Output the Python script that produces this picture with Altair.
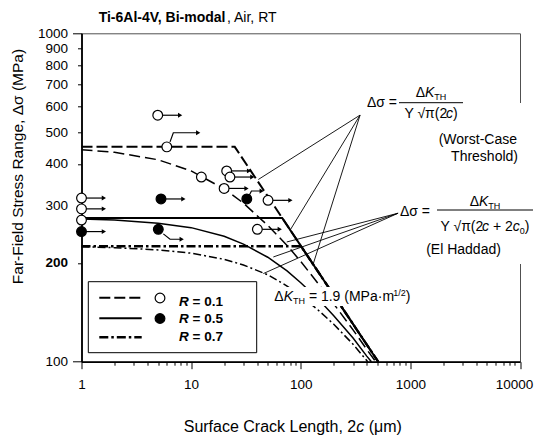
import altair as alt
import pandas as pd

FONT = "Liberation Sans"
OX, OY = 81.5, 33.3          # page position of the plot-area origin
W, H = 438.5, 328.4          # plot-area size

# ---------------- data ----------------
open_x = [1, 1, 1, 4.96, 6.0, 12.4, 21.1, 22.6, 20.0, 50.3, 40.2]
open_y = [315, 292, 270, 563, 451, 365, 381, 365, 337, 310, 253]
open_arrow = [1, 1, 0, 1, 0, 0, 1, 1, 1, 1, 1]

filled_x = [1, 5.31, 5.02, 32.2]
filled_y = [249, 313, 253, 313]
filled_arrow = [1, 1, 0, 0]

# bent run-out arrows
bent_id = ["a", "a", "a", "b", "b", "b", "c", "c", "c"]
bent_x = [6.42, 6.88, 11.6, 5.58, 6.42, 8.2, 34.0, 35.5, 44.0]
bent_y = [467, 498, 498, 245, 236, 236, 322, 331, 331]

# worst-case threshold lines
wc01_x = [1, 25, 508.5]
wc01_y = [451, 451, 100]
wc05_x = [1, 67.7, 508.5]
wc05_y = [274, 274, 100]
wc07_x = [1, 100.7, 508.5]
wc07_y = [224.7, 224.7, 100]

# El Haddad curves
eh01_x = [1, 2, 5, 10, 20, 30, 50, 75, 100, 150, 200, 300, 400, 483.5]
eh01_y = [442, 434, 412, 381, 336, 304, 260, 226, 202, 170, 150, 125, 109, 100]
eh05_x = [1, 2, 5, 10, 20, 30, 50, 75, 100, 150, 200, 300, 400, 441]
eh05_y = [272, 270, 264, 256, 241, 228, 208, 189, 174, 153, 138, 118, 104, 100]
eh07_x = [1, 2, 5, 10, 20, 30, 50, 75, 100, 150, 200, 300, 408]
eh07_y = [224, 222.5, 219, 214, 205, 197, 184, 170, 159, 142, 130, 113, 100]

# leader lines of the formula call-outs
lead_id = ["w1", "w1", "w2", "w2", "w3", "w3", "e1", "e1", "e2", "e2", "e3", "e3"]
lead_x = [347.6, 41.0, 347.6, 79.9, 347.6, 130.3, 772.3, 74.5, 772.3, 56.2, 772.3, 45.6]
lead_y = [563.5, 358.8, 563.5, 251.4, 563.5, 199.0, 283.2, 231.5, 283.2, 208.4, 283.2, 185.5]

x_label_values = [1, 10, 100, 1000, 10000]
x_tick_values = [m * d for d in [1, 10, 100, 1000] for m in range(1, 10)] + [10000]
y_tick_values = [100, 200, 300, 400, 500, 600, 700, 800, 900, 1000]

# ---------------- helpers ----------------
REG = {' ': 278, '(': 333, ')': 333, ',': 278, '-': 333, '.': 278, '/': 278, '=': 584, '+': 584,
       '·': 278, 'A': 667, 'B': 667, 'C': 722, 'H': 722, 'K': 667, 'L': 556, 'M': 833, 'P': 667,
       'R': 722, 'S': 667, 'T': 611, 'V': 667, 'Y': 667, 'W': 944, 'a': 556, 'c': 500, 'd': 556,
       'e': 556, 'f': 278, 'g': 556, 'h': 556, 'i': 222, 'k': 500, 'l': 222, 'm': 833, 'n': 556,
       'o': 556, 'r': 333, 's': 500, 't': 278, 'u': 556, 'Δ': 668, 'σ': 600, 'π': 580, 'μ': 576,
       '√': 549}
BOLD = dict(REG, **{'i': 278, 'l': 278, 'm': 889, 'o': 611, 'd': 611, 'A': 722, 'B': 722})
for dch in "0123456789":
    REG[dch] = 556
    BOLD[dch] = 556


def tw(s, size, bold=False):
    tab = BOLD if bold else REG
    return sum(tab.get(ch, 556) for ch in s) * size / 1000.0


def px(x):
    return x - OX


def py(y):
    return y - OY


def one():
    return pd.DataFrame({"a": [0]})


def txt(s, x, y, size=14, weight="normal", style="normal", align="left", baseline="middle", angle=0):
    return alt.Chart(pd.DataFrame({"t": [s]})).mark_text(
        font=FONT, fontSize=size, fontWeight=weight, fontStyle=style, align=align,
        baseline=baseline, angle=angle, color="black"
    ).encode(x=alt.value(px(x)), y=alt.value(py(y)), text="t:N")


def run(parts, x, y, anchor="left", base="middle"):
    total = sum(tw(p[0], p[1], p[2] == "bold") for p in parts)
    if anchor == "center":
        x -= total / 2
    elif anchor == "right":
        x -= total
    out = []
    for (s, size, weight, style, dy) in parts:
        lead = len(s) - len(s.lstrip(' '))
        out.append(txt(s.strip(' '), x + tw(' ' * lead, size, weight == "bold"), y + dy,
                       size, weight, style, "left", base))
        x += tw(s, size, weight == "bold")
    return out


def prule(x1, y1, x2, y2, dash=None, sw=1.0, color="black"):
    kw = dict(color=color, strokeWidth=sw)
    if dash:
        kw["strokeDash"] = dash
    return alt.Chart(one()).mark_rule(**kw).encode(
        x=alt.value(px(x1)), x2=alt.value(px(x2)), y=alt.value(py(y1)), y2=alt.value(py(y2)))


def prect(x1, y1, x2, y2, fill="white", stroke=None, sw=1.0):
    kw = dict(fill=fill)
    if stroke:
        kw.update(stroke=stroke, strokeWidth=sw)
    return alt.Chart(one()).mark_rect(**kw).encode(
        x=alt.value(px(x1)), x2=alt.value(px(x2)), y=alt.value(py(y1)), y2=alt.value(py(y2)))


def psym(x, y, filled):
    return alt.Chart(one()).mark_point(
        shape="circle", size=95, filled=True, fill="black" if filled else "white",
        stroke="black", strokeWidth=1.2, opacity=1
    ).encode(x=alt.value(px(x)), y=alt.value(py(y)))


# ---------------- scales / axes ----------------
xs = alt.Scale(type="log", domain=[1, 10000], nice=False)
ys = alt.Scale(type="log", domain=[100, 1000], nice=False)

xaxis = alt.Axis(
    values=x_tick_values, title=None, grid=False, format="d",
    labelExpr="indexof([1,10,100,1000,10000], datum.value) >= 0 ? datum.label : ''",
    labelFlush=False, labelOverlap=False, labelFont=FONT, labelFontSize=13.5, labelColor="black",
    labelPadding=9, domainColor="black", domainWidth=1.8, tickColor="black", tickWidth=1,
    labelOffset={"condition": {"test": "datum.value == 10000", "value": -6}, "value": 0},
    tickSize={"condition": {"test": "indexof([1,10,100,1000,10000], datum.value) >= 0", "value": 7},
              "value": 3.5},
)
yaxis = alt.Axis(
    values=y_tick_values, title=None, grid=False, format="d",
    labelFlush=False, labelOverlap=False, labelFont=FONT, labelFontSize=13.5, labelColor="black",
    labelFontWeight={"condition": {"test": "datum.value == 200", "value": "bold"}, "value": "normal"},
    labelPadding={"condition": {"test": "datum.value == 100 || datum.value == 1000", "value": 5},
                  "value": 10},
    domainColor="black", domainWidth=1.8, tickColor="black", tickWidth=1,
    tickSize={"condition": {"test": "datum.value == 100 || datum.value == 1000", "value": 9},
              "value": 4},
)
X = alt.X("x:Q", scale=xs, axis=xaxis)
Y = alt.Y("y:Q", scale=ys, axis=yaxis)


def curve(cx, cy, dash, sw):
    df = pd.DataFrame({"x": cx, "y": cy, "o": list(range(len(cx)))})
    kw = dict(color="black", strokeWidth=sw)
    if dash:
        kw["strokeDash"] = dash
    return alt.Chart(df).mark_line(**kw).encode(x=X, y=Y, order="o:Q")


layers = []

# white text-box background that hides the right frame line
layers.append(prect(452, 103, 530, 264))

# curves
DASH = [11, 4]
DASHDOT = [9, 3, 2.5, 3]
layers += [
    curve(eh01_x, eh01_y, [11, 5], 1.5),
    curve(eh05_x, eh05_y, None, 1.5),
    curve(eh07_x, eh07_y, [8, 3, 2, 3], 1.5),
    curve(wc01_x, wc01_y, DASH, 2),
    curve(wc05_x, wc05_y, None, 2),
    curve(wc07_x, wc07_y, DASHDOT, 2.4),
]

# leader lines
lead_df = pd.DataFrame({"id": lead_id, "x": lead_x, "y": lead_y,
                        "o": [i % 2 for i in range(len(lead_id))]})
layers.append(alt.Chart(lead_df).mark_line(color="black", strokeWidth=0.9).encode(
    x=X, y=Y, detail="id:N", order="o:Q"))

# run-out arrows
arr_df = pd.DataFrame({
    "x": [v for v, a in zip(open_x, open_arrow) if a] + [v for v, a in zip(filled_x, filled_arrow) if a],
    "y": [v for v, a in zip(open_y, open_arrow) if a] + [v for v, a in zip(filled_y, filled_arrow) if a],
})
arr = alt.Chart(arr_df).transform_calculate(xe="datum.x * 1.6")
layers.append(arr.mark_rule(color="black", strokeWidth=1.2).encode(x=X, x2="xe:Q", y=Y))
layers.append(arr.mark_point(shape="triangle-right", filled=True, color="black", size=24, opacity=1)
              .encode(x=alt.X("xe:Q", scale=xs, axis=xaxis), y=Y))

bent_df = pd.DataFrame({"id": bent_id, "x": bent_x, "y": bent_y, "o": [0, 1, 2] * 3})
layers.append(alt.Chart(bent_df).mark_line(color="black", strokeWidth=1.2).encode(
    x=X, y=Y, detail="id:N", order="o:Q"))
layers.append(alt.Chart(bent_df).transform_filter("datum.o == 2").mark_point(
    shape="triangle-right", filled=True, color="black", size=24, opacity=1).encode(x=X, y=Y))

# data points
layers.append(alt.Chart(pd.DataFrame({"x": open_x, "y": open_y})).mark_point(
    shape="circle", size=95, filled=True, fill="white", stroke="black", strokeWidth=1.2, opacity=1
).encode(x=X, y=Y))
layers.append(alt.Chart(pd.DataFrame({"x": filled_x, "y": filled_y})).mark_point(
    shape="circle", size=95, filled=True, fill="black", stroke="black", strokeWidth=1.2, opacity=1
).encode(x=X, y=Y))

# legend box
layers.append(prect(88.3, 281.7, 256.7, 352.7, fill="white", stroke="black", sw=1))
layers.append(prule(99.3, 297.7, 141.7, 297.7, dash=DASH, sw=2))
layers.append(prule(99.3, 318.3, 141.7, 318.3, sw=2))
layers.append(prule(99.3, 337.3, 141.7, 337.3, dash=DASHDOT, sw=2.4))
layers.append(psym(160, 298, False))
layers.append(psym(160, 318.5, True))
for val, yb in [("0.1", 306), ("0.5", 322.7), ("0.7", 341)]:
    layers += run([("R", 13.5, "bold", "italic", 0), (" = " + val, 13.5, "bold", "normal", 0)],
                  179, yb, base="alphabetic")

# title
layers += run([("Ti-6Al-4V, Bi-modal", 14, "bold", "normal", 0),
               (", Air, RT", 14, "normal", "normal", 0)], 188.5, 22, anchor="center", base="alphabetic")

# axis titles
layers.append(txt("Far-Field Stress Range, Δσ (MPa)", 18, 166.5, size=15.5, align="center", angle=270))
layers += run([("Surface Crack Length, 2", 16, "normal", "normal", 0),
               ("c", 16, "normal", "italic", 0),
               (" (μm)", 16, "normal", "normal", 0)], 292.8, 427, anchor="center")

# formula 1 (worst case)
FS = 14
layers.append(txt("Δσ =", 397, 103, FS, align="right"))
layers.append(prule(399, 102.7, 463, 102.7, sw=1))
layers += run([("Δ", FS, "normal", "normal", 0), ("K", FS, "normal", "italic", 0),
               ("TH", 9, "normal", "normal", 4)], 431, 93, anchor="center")
layers += run([("Y √π(2", FS, "normal", "normal", 0), ("c", FS, "normal", "italic", 0),
               (")", FS, "normal", "normal", 0)], 431, 114, anchor="center")
layers.append(txt("(Worst-Case", 517, 140, FS, align="right"))
layers.append(txt("Threshold)", 518, 157, FS, align="right"))

# formula 2 (El Haddad)
layers.append(txt("Δσ =", 430, 211.7, FS, align="right"))
layers.append(prule(437, 210, 533, 210, sw=1))
layers += run([("Δ", FS, "normal", "normal", 0), ("K", FS, "normal", "italic", 0),
               ("TH", 9, "normal", "normal", 4)], 485, 201.7, anchor="center")
layers += run([("Y √π(2", FS, "normal", "normal", 0), ("c", FS, "normal", "italic", 0),
               (" + 2", FS, "normal", "normal", 0), ("c", FS, "normal", "italic", 0),
               ("0", 9, "normal", "normal", 4), (")", FS, "normal", "normal", 0)],
              485, 226.7, anchor="center")
layers.append(txt("(El Haddad)", 463.5, 250, FS, align="center"))

# threshold value label on its own white text box
layers.append(prect(271, 287, 424, 306))
layers += run([("Δ", FS, "normal", "normal", 0), ("K", FS, "normal", "italic", 0),
               ("TH", 9, "normal", "normal", 4), (" = 1.9 (MPa·m", FS, "normal", "normal", 0),
               ("1/2", 9, "normal", "normal", -4), (")", FS, "normal", "normal", 0)],
              274.3, 296.7)

# page is 542 px wide with an 8 px margin: keep the drawing 526 px wide
chart = alt.layer(*layers).properties(
    width=W, height=H,
    padding={"left": OX - 8, "top": OY - 8, "right": 534 - OX - W, "bottom": 438 - OY - H},
    autosize=alt.AutoSizeParams(type="none"),
    background="white",
).configure_view(stroke="#505050", strokeWidth=1)

chart.save("out.html", embed_options={"renderer": "svg", "actions": False})
